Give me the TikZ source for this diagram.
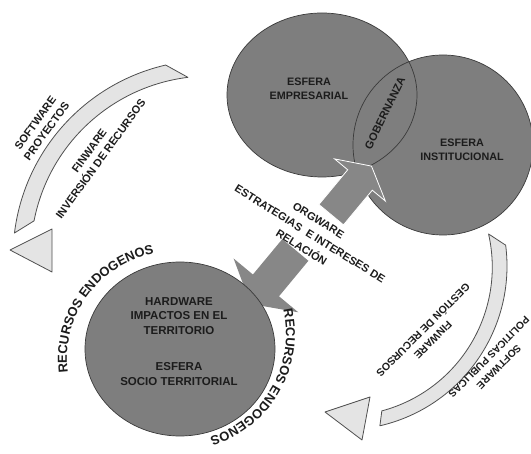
\documentclass[tikz,border=0pt]{standalone}
\usepackage{fontspec}
\setmainfont{Liberation Sans}
\usetikzlibrary{decorations.text}

\definecolor{spherefill}{HTML}{7E7E7E}
\definecolor{sphereline}{HTML}{3A3A3A}
\definecolor{arrowgray}{HTML}{878787}
\definecolor{bandfill}{HTML}{E4E4E4}
\definecolor{bandline}{HTML}{505050}
\definecolor{ink}{HTML}{1C1C1C}

\begin{document}
\begin{tikzpicture}[x=1pt,y=-1pt,
  spherebody/.style={fill=spherefill},
  sphereedge/.style={draw=sphereline, line width=0.7pt},
  band/.style={fill=bandfill, draw=bandline, line width=0.8pt, line join=round},
  bigarrow/.style={fill=arrowgray, line join=miter},
  lbl/.style={font=\bfseries\fontsize{11}{14}\selectfont, text=ink, align=center, inner sep=0pt},
  toplbl/.style={lbl, font=\bfseries\fontsize{10.8}{13.5}\selectfont},
  midlbl/.style={lbl, font=\bfseries\fontsize{11}{16}\selectfont},
  bandlbl/.style={lbl, font=\bfseries\fontsize{10.5}{14}\selectfont},
  ringtext/.style={decorate, decoration={text along path, text align=center,
      text color=ink, text={|\bfseries\fontsize{13}{13}\selectfont|RECURSOS ENDOGENOS}}}
]
\useasboundingbox (0,0) rectangle (531,454);
\fill[white] (0,0) rectangle (531,454);

% ---- curved bands with their separate arrow heads ----
\draw[band] ([shift={(210,257)}]-173:197) arc[start angle=-173, end angle=-103, radius=197]
   -- ([shift={(210,257)}]-97:181) arc[start angle=-97, end angle=-169, radius=179] -- cycle;
\draw[band] (10,250) -- (52,229) -- (52,272) -- cycle;

\draw[band] ([shift={(343,266)}]-7.3:164) arc[start angle=-7.3, end angle=77, radius=164]
   -- ([shift={(343,266)}]75:150) arc[start angle=75, end angle=-12.8, radius=149] -- cycle;
\draw[band] (325,412) -- (370,397) -- (362,440) -- cycle;

% ---- lower half of the central arrow (its point lies under the lower sphere) ----
\fill[bigarrow] (282.3,239.1) -- (308.4,260.8) -- (279.0,296.3) -- (298.3,312.3)
   -- (250.5,303.9) -- (233.6,258.5) -- (252.9,274.5) -- cycle;

% ---- spheres ----
\fill[spherebody] (322,95) ellipse [x radius=95, y radius=82];
\fill[spherebody] (443,145) ellipse [x radius=90, y radius=90];
\draw[sphereedge] (322,95) ellipse [x radius=95, y radius=82];
\draw[sphereedge] (443,145) ellipse [x radius=90, y radius=90];

\fill[spherebody] (180,349) ellipse [x radius=95, y radius=87];
\draw[sphereedge] (180,349) ellipse [x radius=95, y radius=87];

% ---- upper half of the central arrow ----
\filldraw[bigarrow, draw=white, line width=0.8pt]
   (371.5,166.1) -- (385.4,201.1) -- (372.3,190.2) -- (343.5,224.9)
   -- (318.9,204.5) -- (347.7,169.8) -- (334.6,158.9) -- cycle;

% ---- sphere labels ----
\node[toplbl] (empresarial) at (309,89) {ESFERA\\EMPRESARIAL};
\node[toplbl] (institucional) at (462,150) {ESFERA\\INSTITUCIONAL};
\node[lbl, rotate=64] (gobernanza) at (385,113) {GOBERNANZA};
\node[lbl, font=\bfseries\fontsize{11.5}{14.5}\selectfont] (hardware) at (179,316) {HARDWARE\\IMPACTOS EN EL\\TERRITORIO};
\node[lbl, font=\bfseries\fontsize{11.5}{15.5}\selectfont] (socio) at (179,374) {ESFERA\\SOCIO TERRITORIAL};

% ---- central arrow label ----
\node[midlbl, rotate=-32] (orgware) at (310,234) {ORGWARE\\ESTRATEGIAS\ \ E INTERESES DE\\RELACIÓN};

% ---- band labels ----
\node[lbl, rotate=54] (software1) at (41,127) {SOFTWARE\\PROYECTOS};
\node[lbl, rotate=54] (finware1) at (95,155) {FINWARE\\INVERSIÓN DE RECURSOS};
\node[bandlbl, rotate=-135] (finware2) at (428,335) {FINWARE\\GESTIÓN DE RECURSOS};
\node[bandlbl, font=\bfseries\fontsize{10.2}{14}\selectfont, rotate=-135] (software2) at (494,362) {SOFTWARE\\POLITICAS PUBLICAS};

% ---- curved captions round the lower sphere ----
\path[ringtext] ([shift={(174,359)}]-200:107) arc[start angle=-200, end angle=-88, radius=107];
\path[ringtext] ([shift={(178,334)}]-25:108) arc[start angle=-25, end angle=85, radius=108];

\end{tikzpicture}
\end{document}
